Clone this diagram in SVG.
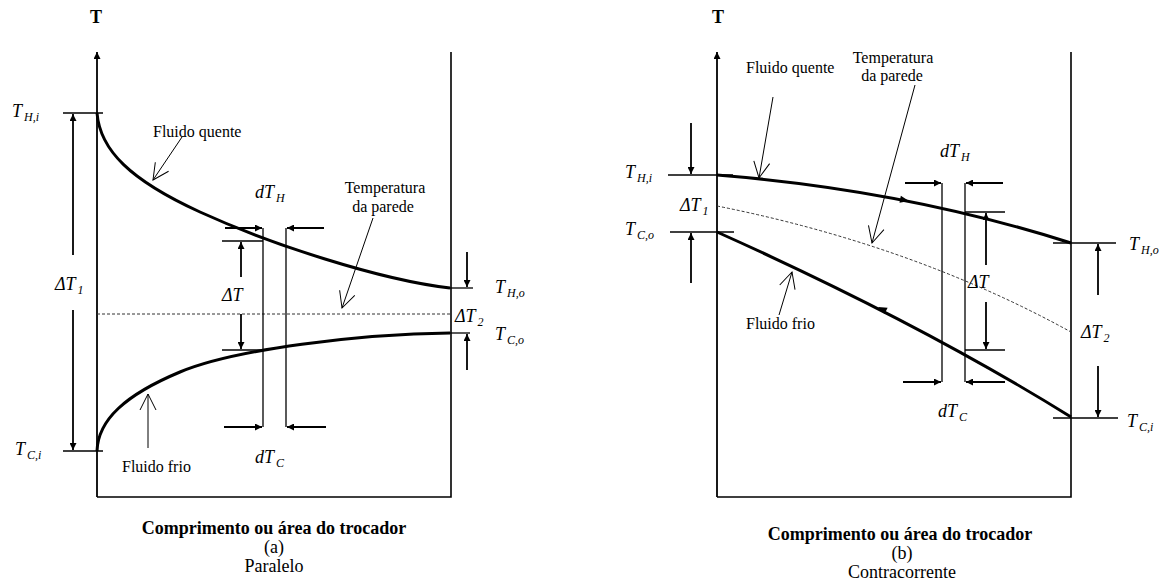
<svg xmlns="http://www.w3.org/2000/svg" width="1166" height="588" viewBox="0 0 1166 588">
<defs>
<marker id="ah" viewBox="0 0 10 10" refX="10" refY="5" markerWidth="9" markerHeight="7" markerUnits="userSpaceOnUse" orient="auto"><path d="M0,0 L10,5 L0,10 z" fill="#000"/></marker>
<marker id="open" viewBox="0 0 20 20" refX="18" refY="10" markerWidth="20" markerHeight="20" markerUnits="userSpaceOnUse" orient="auto"><path d="M2,2 L18,10 L2,18" fill="none" stroke="#000" stroke-width="1"/></marker>
</defs>
<style>
.box{fill:none;stroke:#000;stroke-width:1.6}
.curve{fill:none;stroke:#000;stroke-width:3}
.tick{fill:none;stroke:#000;stroke-width:1.3}
.arr{fill:none;stroke:#000;stroke-width:1.8;marker-end:url(#ah)}
.ptr{fill:none;stroke:#000;stroke-width:1;marker-end:url(#open)}
.dot{fill:none;stroke:#333;stroke-width:1;stroke-dasharray:3,2}
.lbl{font-family:"Liberation Serif","Times New Roman",serif;font-size:16px;fill:#000}
.cap{font-family:"Liberation Serif","Times New Roman",serif;font-size:18px;fill:#000;text-anchor:middle}
.b{font-weight:bold}
.it{font-family:"Liberation Serif","Times New Roman",serif;font-style:italic;font-size:18px;fill:#000}
.sub{font-size:12px}
</style>

<!-- Panel (a) Paralelo -->
<g id="panel-a">
  <g id="a-axes">
    <text class="cap b" x="96" y="23">T</text>
    <line class="arr" x1="97" y1="497" x2="97" y2="52"/>
    <polyline class="box" points="97,497 451,497 451,52"/>
  </g>
  <g id="a-hot">
    <path class="curve" d="M97,113 C100,150 130,180 200,212 S380,280 450,288"/>
  </g>
  <g id="a-cold">
    <path class="curve" d="M97,451 C98,420 125,395 180,372 S360,334 450,333"/>
  </g>
  <g id="a-wall">
    <line class="dot" x1="97" y1="314" x2="451" y2="314"/>
  </g>
  <g id="a-ticks">
    <line class="tick" x1="63" y1="113" x2="103" y2="113"/>
    <line class="tick" x1="63" y1="451" x2="103" y2="451"/>
    <line class="tick" x1="449" y1="288" x2="473" y2="288"/>
    <line class="tick" x1="449" y1="333" x2="470" y2="333"/>
    <line class="tick" x1="222" y1="241" x2="263" y2="241"/>
    <line class="tick" x1="222" y1="350" x2="264" y2="350"/>
    <line class="tick" x1="263" y1="228" x2="263" y2="427"/>
    <line class="tick" x1="286" y1="228" x2="286" y2="427"/>
  </g>
  <g id="a-labels">
    <text class="it" x="12" y="117">T<tspan class="sub" dx="2" dy="4">H,i</tspan></text>
    <text class="it" x="15" y="455">T<tspan class="sub" dx="2" dy="4">C,i</tspan></text>
    <text class="it" x="55" y="290">ΔT<tspan class="sub" dx="2" dy="4">1</tspan></text>
    <text class="it" x="222" y="301">ΔT</text>
    <text class="it" x="455" y="322">ΔT<tspan class="sub" dx="2" dy="4">2</tspan></text>
    <text class="it" x="255" y="198">dT<tspan class="sub" dx="2" dy="4">H</tspan></text>
    <text class="it" x="255" y="463">dT<tspan class="sub" dx="2" dy="4">C</tspan></text>
    <text class="it" x="495" y="293">T<tspan class="sub" dx="2" dy="4">H,o</tspan></text>
    <text class="it" x="495" y="340">T<tspan class="sub" dx="2" dy="4">C,o</tspan></text>
    <text class="lbl" x="153" y="137">Fluido quente</text>
    <text class="lbl" x="122" y="472">Fluido frio</text>
    <text class="lbl" x="385" y="193" text-anchor="middle">Temperatura</text>
    <text class="lbl" x="383" y="212" text-anchor="middle">da parede</text>
    <text class="cap b" x="274" y="534">Comprimento ou área do trocador</text>
    <text class="cap" x="274" y="553">(a)</text>
    <text class="cap" x="274" y="572">Paralelo</text>
  </g>
</g>

<!-- Panel (b) Contracorrente -->
<g id="panel-b">
  <g id="b-axes">
    <text class="cap b" x="718" y="23">T</text>
    <line class="arr" x1="717" y1="497" x2="717" y2="52"/>
    <polyline class="box" points="717,497 1071,497 1071,52"/>
  </g>
  <g id="b-hot">
    <path class="curve" d="M717,175 Q905,190 1071,243"/>
    <polygon points="0,0 -9,-3.5 -9,3.5" transform="translate(909,201) rotate(11)"/>
  </g>
  <g id="b-cold">
    <path class="curve" d="M717,232 Q920,323 1071,417"/>
    <polygon points="0,0 -9,-3.5 -9,3.5" transform="translate(878,307) rotate(206)"/>
  </g>
  <g id="b-wall">
    <path class="dot" d="M717,206 Q913,245 1071,332"/>
  </g>
  <g id="b-ticks">
    <line class="tick" x1="668" y1="175" x2="733" y2="175"/>
    <line class="tick" x1="670" y1="232" x2="734" y2="232"/>
    <line class="tick" x1="1053" y1="243" x2="1116" y2="243"/>
    <line class="tick" x1="1053" y1="418" x2="1118" y2="418"/>
    <line class="tick" x1="965" y1="212" x2="1005" y2="212"/>
    <line class="tick" x1="965" y1="350" x2="1005" y2="350"/>
    <line class="tick" x1="942" y1="183" x2="942" y2="382"/>
    <line class="tick" x1="965" y1="183" x2="965" y2="382"/>
  </g>
  <g id="b-labels">
    <text class="it" x="625" y="178">T<tspan class="sub" dx="2" dy="4">H,i</tspan></text>
    <text class="it" x="680" y="211">ΔT<tspan class="sub" dx="2" dy="4">1</tspan></text>
    <text class="it" x="625" y="235">T<tspan class="sub" dx="2" dy="4">C,o</tspan></text>
    <text class="it" x="1129" y="250">T<tspan class="sub" dx="2" dy="4">H,o</tspan></text>
    <text class="it" x="1127" y="427">T<tspan class="sub" dx="2" dy="4">C,i</tspan></text>
    <text class="it" x="1081" y="338">ΔT<tspan class="sub" dx="2" dy="4">2</tspan></text>
    <text class="it" x="968" y="288">ΔT</text>
    <text class="it" x="940" y="157">dT<tspan class="sub" dx="2" dy="4">H</tspan></text>
    <text class="it" x="938" y="417">dT<tspan class="sub" dx="2" dy="4">C</tspan></text>
    <text class="lbl" x="746" y="73">Fluido quente</text>
    <text class="lbl" x="746" y="329">Fluido frio</text>
    <text class="lbl" x="893" y="63" text-anchor="middle">Temperatura</text>
    <text class="lbl" x="892" y="81" text-anchor="middle">da parede</text>
    <text class="cap b" x="900" y="540">Comprimento ou área do trocador</text>
    <text class="cap" x="902" y="559">(b)</text>
    <text class="cap" x="902" y="578">Contracorrente</text>
  </g>
</g>

<!-- Connectors: dimension arrows and pointers -->
<g id="connectors">
  <line class="arr" x1="73" y1="255" x2="73" y2="114"/>
  <line class="arr" x1="73" y1="310" x2="73" y2="450"/>
  <line class="arr" x1="467" y1="252" x2="467" y2="287"/>
  <line class="arr" x1="467" y1="370" x2="467" y2="334"/>
  <line class="arr" x1="241" y1="277" x2="241" y2="242"/>
  <line class="arr" x1="241" y1="314" x2="241" y2="349"/>
  <line class="arr" x1="225" y1="228" x2="262" y2="228"/>
  <line class="arr" x1="324" y1="228" x2="287" y2="228"/>
  <line class="arr" x1="224" y1="427" x2="262" y2="427"/>
  <line class="arr" x1="326" y1="427" x2="287" y2="427"/>
  <line class="ptr" x1="182" y1="137" x2="153" y2="180"/>
  <line class="ptr" x1="148" y1="448" x2="148" y2="394"/>
  <line class="ptr" x1="373" y1="218" x2="342" y2="308"/>

  <line class="arr" x1="691" y1="123" x2="691" y2="174"/>
  <line class="arr" x1="691" y1="283" x2="691" y2="233"/>
  <line class="arr" x1="1098" y1="295" x2="1098" y2="244"/>
  <line class="arr" x1="1098" y1="366" x2="1098" y2="417"/>
  <line class="arr" x1="986" y1="265" x2="986" y2="213"/>
  <line class="arr" x1="986" y1="302" x2="986" y2="349"/>
  <line class="arr" x1="905" y1="183" x2="941" y2="183"/>
  <line class="arr" x1="1003" y1="183" x2="966" y2="183"/>
  <line class="arr" x1="903" y1="382" x2="941" y2="382"/>
  <line class="arr" x1="1005" y1="382" x2="966" y2="382"/>
  <line class="ptr" x1="773" y1="97" x2="759" y2="178"/>
  <line class="ptr" x1="779" y1="315" x2="792" y2="272"/>
  <line class="ptr" x1="915" y1="85" x2="872" y2="243"/>
</g>
</svg>
